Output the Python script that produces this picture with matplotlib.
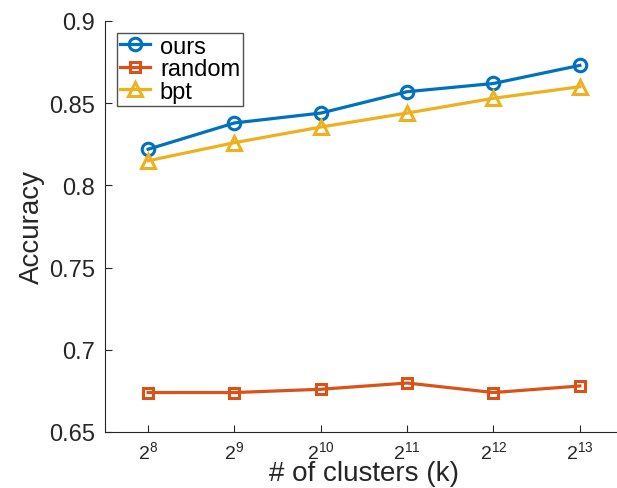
import matplotlib
matplotlib.use("Agg")
import matplotlib.pyplot as plt

plt.rcParams['font.family'] = ['Liberation Sans', 'DejaVu Sans']
plt.rcParams['mathtext.fontset'] = 'custom'
plt.rcParams['mathtext.rm'] = 'Liberation Sans'

exponents = [8, 9, 10, 11, 12, 13]
ours = [0.822, 0.838, 0.844, 0.857, 0.862, 0.873]
random_ = [0.674, 0.674, 0.676, 0.6798, 0.674, 0.678]
bpt = [0.815, 0.826, 0.8355, 0.844, 0.853, 0.860]
yticks = [0.65, 0.7, 0.75, 0.8, 0.85, 0.9]
ytick_labels = ['0.65', '0.7', '0.75', '0.8', '0.85', '0.9']

fig = plt.figure(figsize=(6.17, 4.89), dpi=100)
ax = fig.add_axes([105/617, 56/489, (623-105)/617, (433-22)/489])

lw = 2.3
ax.plot(exponents, ours, '-o', color='#0072BD', lw=lw, ms=9, mfc='none', mew=2.2, label='ours')
ax.plot(exponents, random_, '-s', color='#D95319', lw=lw, ms=7.5, mfc='none', mew=2.2, label='random')
ax.plot(exponents, bpt, '-^', color='#EDB120', lw=lw, ms=10, mfc='none', mew=2.2, label='bpt')

ax.set_xlim(7.5, 13.5)
ax.set_ylim(0.65, 0.9)
ax.set_xticks(exponents)
ax.set_xticklabels([f'$2^{{{e}}}$' for e in exponents])
ax.set_yticks(yticks)
ax.set_yticklabels(ytick_labels)
ax.tick_params(direction='in', length=5, colors='#262626')
ax.tick_params(axis='y', labelsize=17, pad=7)
ax.tick_params(axis='x', labelsize=14, pad=6)
for s in ['top', 'right']:
    ax.spines[s].set_visible(False)
for s in ['left', 'bottom']:
    ax.spines[s].set_color('#262626')
ax.set_xlabel('# of clusters (k)', fontsize=20, color='#262626', labelpad=-1.8)
ax.set_ylabel('Accuracy', fontsize=20, color='#262626', labelpad=3)

leg = ax.legend(loc='upper left', bbox_to_anchor=(0.023, 0.971), fontsize=17, frameon=True, fancybox=False,
                edgecolor='#262626', handlelength=1.3, handletextpad=0.4, borderpad=0.12, labelspacing=0.02,
                borderaxespad=0)
leg.get_frame().set_linewidth(1.0)

fig.savefig('out.png', dpi=100)
